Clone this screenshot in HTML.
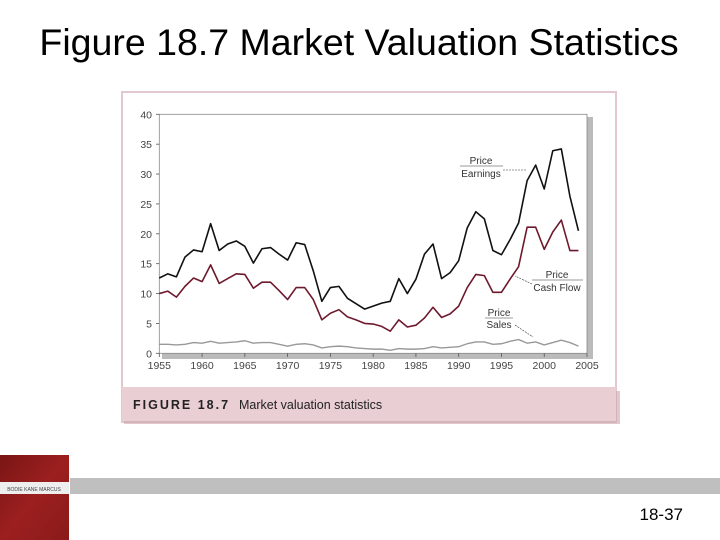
<!DOCTYPE html>
<html><head><meta charset="utf-8"><style>
body{margin:0;background:#fff;width:720px;height:540px;overflow:hidden;position:relative;font-family:"Liberation Sans",sans-serif}
</style></head><body>
<svg width="720" height="540" style="position:absolute;left:0;top:0" id="svg">
<text x="359" y="55" font-size="37.5" text-anchor="middle" fill="#000">Figure 18.7 Market Valuation Statistics</text>
<rect x="122" y="92" width="494" height="330" fill="#fff" stroke="#e3c9cf" stroke-width="2"/>
<rect x="124" y="391" width="496" height="33" fill="#c9a5ad" opacity="0.6"/>
<rect x="122" y="387" width="494" height="34" fill="#e9ced4"/>
<text x="133" y="409" font-size="12.5" font-weight="bold" letter-spacing="2" fill="#222">FIGURE 18.7</text>
<text x="239" y="409" font-size="12.5" fill="#222">Market valuation statistics</text>
<rect x="587" y="117" width="6" height="242" fill="#bbb"/>
<rect x="162" y="353" width="431" height="6" fill="#bbb"/>
<rect x="159.3" y="114.3" width="427.7" height="239" fill="#fff" stroke="#888" stroke-width="0.8"/>
<g id="ax"></g>
<g id="lines"></g>
<g font-size="10" fill="#333">
<text x="481" y="164" text-anchor="middle">Price</text><line x1="460" y1="166" x2="503" y2="166" stroke="#333" stroke-width="0.6"/>
<text x="481" y="177" text-anchor="middle">Earnings</text>
<line x1="503" y1="170" x2="527" y2="170" stroke="#333" stroke-width="0.6" stroke-dasharray="2,1"/>
<text x="557" y="278" text-anchor="middle">Price</text><line x1="532" y1="280" x2="583" y2="280" stroke="#333" stroke-width="0.6"/>
<text x="557" y="291" text-anchor="middle">Cash Flow</text>
<line x1="532" y1="284" x2="515" y2="276" stroke="#333" stroke-width="0.6" stroke-dasharray="2,1"/>
<text x="499" y="316" text-anchor="middle">Price</text><line x1="485" y1="318" x2="513" y2="318" stroke="#333" stroke-width="0.6"/>
<text x="499" y="328" text-anchor="middle">Sales</text>
<line x1="515" y1="325" x2="533" y2="337" stroke="#333" stroke-width="0.6" stroke-dasharray="2,1"/>
</g>
<rect x="70" y="478" width="650" height="16" fill="#bfbfbf"/>
<defs><linearGradient id="bk" x1="0" y1="0" x2="1" y2="1"><stop offset="0" stop-color="#7a1515"/><stop offset="0.5" stop-color="#9c1f1f"/><stop offset="1" stop-color="#8a1a1a"/></linearGradient></defs>
<rect x="0" y="455" width="69" height="85" fill="url(#bk)"/>
<rect x="0" y="482" width="69" height="12" fill="#eee"/>
<text x="34" y="491" font-size="5" text-anchor="middle" fill="#444">BODIE KANE MARCUS</text>
<text x="683" y="520" font-size="17" text-anchor="end" fill="#000">18-37</text>
</svg>
<script>
const years=[];for(let y=1955;y<=2004;y++)years.push(y);
const xTicks=[1955,1960,1965,1970,1975,1980,1985,1990,1995,2000,2005];
const yTicks=[0,5,10,15,20,25,30,35,40];
const priceEarnings=[12.6,13.3,12.8,16.1,17.3,17,21.7,17.2,18.3,18.8,17.9,15.1,17.5,17.7,16.6,15.6,18.5,18.2,13.8,8.7,11,11.2,9.2,8.3,7.4,7.9,8.4,8.7,12.5,10,12.4,16.6,18.3,12.5,13.5,15.5,21,23.7,22.5,17.2,16.5,19,21.8,28.9,31.5,27.5,33.9,34.2,26.3,20.5];
const priceCashFlow=[10,10.4,9.4,11.2,12.6,12,14.8,11.7,12.5,13.3,13.2,10.9,11.9,11.9,10.5,9,11,11,9,5.6,6.7,7.3,6.1,5.6,5,4.9,4.5,3.7,5.6,4.4,4.7,5.9,7.7,6,6.6,7.9,11,13.2,13,10.2,10.2,12.4,14.5,21.1,21.1,17.4,20.3,22.3,17.2,17.2];
const priceSales=[1.5,1.5,1.4,1.5,1.8,1.7,2.0,1.7,1.8,1.9,2.1,1.7,1.8,1.8,1.5,1.2,1.5,1.6,1.4,0.9,1.1,1.2,1.1,0.9,0.8,0.7,0.7,0.5,0.8,0.7,0.7,0.8,1.1,0.9,1.0,1.1,1.6,1.9,1.9,1.5,1.6,2.0,2.3,1.7,1.9,1.4,1.8,2.2,1.8,1.2];
const X=y=>159.3+(y-1955)*(587-159.3)/50;
const Y=v=>353.3-v*(353.3-114.3)/40;
const NS='http://www.w3.org/2000/svg';
const ax=document.getElementById('ax'),lg=document.getElementById('lines');
function mk(t,a,p){const e=document.createElementNS(NS,t);for(const k in a)e.setAttribute(k,a[k]);p.appendChild(e);return e;}
xTicks.forEach(t=>{mk('line',{x1:X(t),x2:X(t),y1:353.3,y2:357,stroke:'#555','stroke-width':0.8},ax);
 const e=mk('text',{x:X(t),y:369,'font-size':10.5,'text-anchor':'middle',fill:'#444'},ax);e.textContent=t;
 
 });
yTicks.forEach(t=>{mk('line',{x1:156,x2:159.3,y1:Y(t),y2:Y(t),stroke:'#555','stroke-width':0.8},ax);
 const e=mk('text',{x:152,y:Y(t)+4,'font-size':10.5,'text-anchor':'end',fill:'#444'},ax);e.textContent=t;
 
 });
function line(d,c,w,n){const p=mk('polyline',{points:d.map((v,i)=>X(years[i])+','+Y(v)).join(' '),fill:'none',stroke:c,'stroke-width':w,'stroke-linejoin':'round'},lg);
 
 }
line(priceSales,'#999',1.4,'price-sales-line');
line(priceCashFlow,'#6e1a2e',1.6,'price-cash-flow-line');
line(priceEarnings,'#111',1.6,'price-earnings-line');
</script>
</body></html>
